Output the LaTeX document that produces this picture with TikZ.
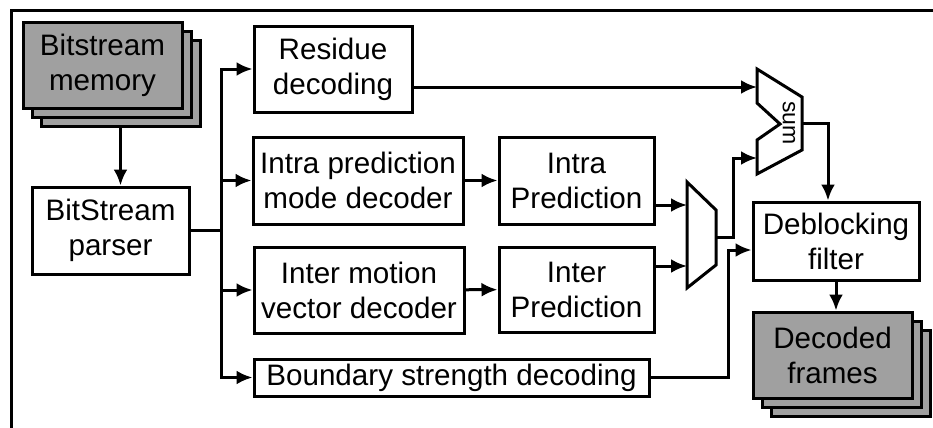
\documentclass[tikz,border=0pt]{standalone}
\usepackage{fontspec}
\setmainfont{Liberation Sans}
\usepackage{tikz}
\usetikzlibrary{arrows.meta,positioning,calc}
\definecolor{mygray}{RGB}{160,160,160}

\tikzset{
  blk/.style={draw, line width=1.5pt, fill=white, align=center, inner sep=0pt,
              font=\fontsize{14.8}{17.5}\selectfont},
  stackbox/.style={blk, fill=mygray, minimum width=79.5pt, minimum height=43pt},
  arr/.style={line width=1.5pt, -{Latex[length=8pt,width=7pt]}},
  wire/.style={line width=1.5pt}
}

\begin{document}
\begin{tikzpicture}[x=0.5pt,y=-0.5pt]
  \useasboundingbox (0,0) rectangle (933,428);
  % Frame
  \draw[wire] (11,428) -- (11,10) -- (933,10);
  % Memory and parser
  \node[stackbox] (mem3) at (120.5,83) {};
  \node[stackbox] (mem2) at (111.5,74) {};
  \node[stackbox] (mem) at (102.5,65) {Bitstream\\memory};
  \node[blk, minimum width=78.5pt, minimum height=43.5pt] (parser) at (110.5,230.5) {BitStream\\parser};
  % Decoding stages
  \node[blk, minimum width=79pt, minimum height=43pt] (residue) at (333,69) {Residue\\decoding};
  \node[blk, minimum width=105pt, minimum height=43.5pt] (intradec) at (358,180.5) {Intra prediction\\mode decoder};
  \node[blk, minimum width=105pt, minimum height=43pt] (interdec) at (359,290) {Inter motion\\vector decoder};
  \node[blk, minimum width=197.5pt, minimum height=18.5pt] (boundary) at (451.5,377.5) {Boundary strength decoding};
  \node[blk, minimum width=77.5pt, minimum height=43.5pt] (intrapred) at (576.5,180.5) {Intra\\Prediction};
  \node[blk, minimum width=77.5pt, minimum height=42.5pt] (interpred) at (576.5,289.5) {Inter\\Prediction};
  \node[blk, minimum width=83pt, minimum height=39pt] (deblock) at (836,241) {Deblocking\\filter};
  % Output frames
  \node[stackbox] (dec3) at (850.5,373) {};
  \node[stackbox] (dec2) at (841.5,364) {};
  \node[stackbox] (dec) at (832.5,355) {Decoded\\frames};
  % Mux and adder
  \draw[wire, fill=white] (687,182) -- (716,210) -- (716,265) -- (687,288) -- cycle;
  \coordinate (muxa) at (687,205);
  \coordinate (muxb) at (687,266);
  \coordinate (muxo) at (716,237);
  \draw[wire, fill=white] (757,69) -- (802,97) -- (802,150) -- (757,174) -- (757,140)
    -- (780,124) -- (757,103) -- cycle;
  \node[rotate=-90, font=\fontsize{11.5}{11.5}\selectfont] (sumlbl) at (789,123) {sum};
  \coordinate (suma) at (757,87);
  \coordinate (sumb) at (757,158);
  \coordinate (sumo) at (802,123);
  % Connections
  \draw[arr] (mem3.south) -- (mem3.south |- parser.north);
  \draw[arr] (parser.east) -- ++(31,0) coordinate (bus) |- (residue.west);
  \draw[arr] (bus) |- (intradec.west);
  \draw[arr] (bus) |- (interdec.west);
  \draw[arr] (bus) |- (boundary.west);
  \draw[arr] (intradec) -- (intrapred);
  \draw[arr] (interdec) -- (interpred);
  \draw[arr] (intrapred.east |- muxa) -- (muxa);
  \draw[arr] (interpred.east |- muxb) -- (muxb);
  \draw[arr] (residue.east |- suma) -- (suma);
  \draw[arr] (muxo) -- ++(17,0) |- (sumb);
  \draw[arr] (sumo) -| ([xshift=-4pt]deblock.north);
  \draw[arr] (boundary.east) -- ++(78,0) |- ([yshift=-4.5pt]deblock.west);
  \draw[arr] (deblock.south) -- (deblock.south |- dec.north);
\end{tikzpicture}
\end{document}
